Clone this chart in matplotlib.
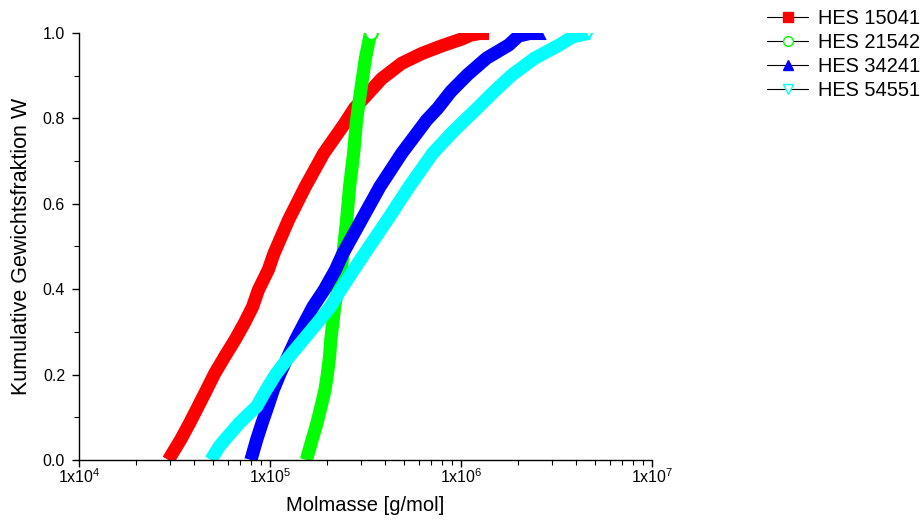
import matplotlib
matplotlib.use("Agg")
import matplotlib.pyplot as plt
from matplotlib.lines import Line2D
from matplotlib.ticker import FixedLocator, LogLocator, MultipleLocator, NullFormatter

plt.rcParams["font.family"] = ["Liberation Sans", "DejaVu Sans"]
plt.rcParams["mathtext.fontset"] = "custom"
plt.rcParams["mathtext.rm"] = "Liberation Sans"
plt.rcParams["mathtext.it"] = "Liberation Sans:italic"

# Daten (Molmasse in g/mol, kumulative Gewichtsfraktion W)
labels = ["HES 15041", "HES 21542", "HES 34241", "HES 54551"]

m_15041 = [29400, 30100, 34000, 37900, 42000, 46500, 51400, 57900, 65500, 73300, 81100, 86900,
           97900, 105000, 125000, 153000, 191000, 245000, 277000, 314000, 384000, 489000,
           624000, 794000, 1010000, 1120000, 1290000]
w_15041 = [0.0, 0.008, 0.047, 0.086, 0.125, 0.164, 0.203, 0.242, 0.281, 0.320, 0.359, 0.398,
           0.445, 0.484, 0.562, 0.640, 0.718, 0.787, 0.824, 0.850, 0.893, 0.929,
           0.952, 0.970, 0.986, 0.995, 1.0]

m_21542 = [155000, 166000, 176000, 185000, 194000, 200000, 205000, 208000, 213000, 218000,
           226000, 236000, 252000, 261000, 274000, 284000, 298000, 316000, 336000]
w_21542 = [0.0, 0.047, 0.086, 0.125, 0.164, 0.203, 0.242, 0.281, 0.320, 0.359,
           0.398, 0.445, 0.562, 0.640, 0.718, 0.796, 0.863, 0.941, 1.0]

m_34241 = [79400, 85100, 90800, 97300, 104000, 113000, 124000, 136000, 151000, 168000,
           192000, 220000, 241000, 301000, 376000, 489000, 661000, 753000, 885000, 1080000,
           1360000, 1780000, 2000000, 2290000, 2570000]
w_34241 = [0.0, 0.047, 0.086, 0.125, 0.164, 0.203, 0.242, 0.281, 0.320, 0.359,
           0.398, 0.445, 0.484, 0.562, 0.640, 0.718, 0.796, 0.823, 0.863, 0.902,
           0.941, 0.972, 0.993, 0.999, 1.0]

m_54551 = [49000, 54100, 57900, 68900, 77800, 85100, 95300, 108000, 126000, 149000,
           176000, 207000, 234000, 274000, 313000, 411000, 535000, 710000, 912000, 1210000,
           1490000, 1850000, 2430000, 3270000, 3840000, 4700000]
w_54551 = [0.0, 0.031, 0.047, 0.086, 0.109, 0.125, 0.164, 0.203, 0.242, 0.281,
           0.320, 0.359, 0.398, 0.445, 0.484, 0.562, 0.640, 0.718, 0.770, 0.823,
           0.863, 0.902, 0.941, 0.972, 0.991, 1.0]

series = [
    (m_15041, w_15041, "#FF0000", "s", "#FF0000"),
    (m_21542, w_21542, "#00FF00", "o", "white"),
    (m_34241, w_34241, "#0000FF", "^", "#0000FF"),
    (m_54551, w_54551, "#00FFFF", "v", "white"),
]

fig = plt.figure(figsize=(9.23, 5.27), dpi=100)
ax = fig.add_axes([79 / 923, 1 - 460 / 527, (652 - 79) / 923, (460 - 33) / 527])

handles = []
for (m, w, color, marker, face), label in zip(series, labels):
    ax.plot(m, w, color=color, linewidth=9.5, solid_capstyle="butt", solid_joinstyle="round",
            marker=marker, markevery=[len(m) - 1], markersize=9,
            markerfacecolor=face, markeredgecolor=color, markeredgewidth=1.5)
    handles.append(Line2D([0], [0], color="black", linewidth=0.8, marker=marker,
                          markersize=7, markerfacecolor=face, markeredgecolor=color,
                          markeredgewidth=1.0, label=label))

ax.set_xscale("log")
ax.set_xlim(1e4, 1e7)
ax.set_ylim(0, 1.0)

ax.xaxis.set_major_locator(FixedLocator([1e4, 1e5, 1e6, 1e7]))
ax.set_xticklabels([r"1x10$^{4}$", r"1x10$^{5}$", r"1x10$^{6}$", r"1x10$^{7}$"])
ax.xaxis.set_minor_locator(LogLocator(base=10, subs=range(2, 10)))
ax.xaxis.set_minor_formatter(NullFormatter())
ax.yaxis.set_major_locator(MultipleLocator(0.2))
ax.yaxis.set_minor_locator(MultipleLocator(0.1))
ax.set_yticklabels([f"{v:.1f}" for v in ax.get_yticks()])

ax.spines["top"].set_visible(False)
ax.spines["right"].set_visible(False)
for s in ("left", "bottom"):
    ax.spines[s].set_linewidth(1.0)
ax.tick_params(which="major", direction="out", length=5, width=1.0, labelsize=11.5)
ax.tick_params(which="minor", direction="out", length=3.5, width=0.8)
ax.tick_params(axis="x", pad=0.5)
ax.tick_params(axis="y", pad=5)

ax.set_xlabel("Molmasse [g/mol]", fontsize=14.5, labelpad=7)
ax.set_ylabel("Kumulative Gewichtsfraktion W", fontsize=15.5, labelpad=8)

fig.legend(handles=handles, loc="upper left", bbox_to_anchor=(767 / 923, 1 - 9 / 527),
           frameon=False, fontsize=14.4, handlelength=2.05, handletextpad=0.5,
           labelspacing=0.25, borderaxespad=0, borderpad=0)

fig.savefig("out.png", dpi=100)
